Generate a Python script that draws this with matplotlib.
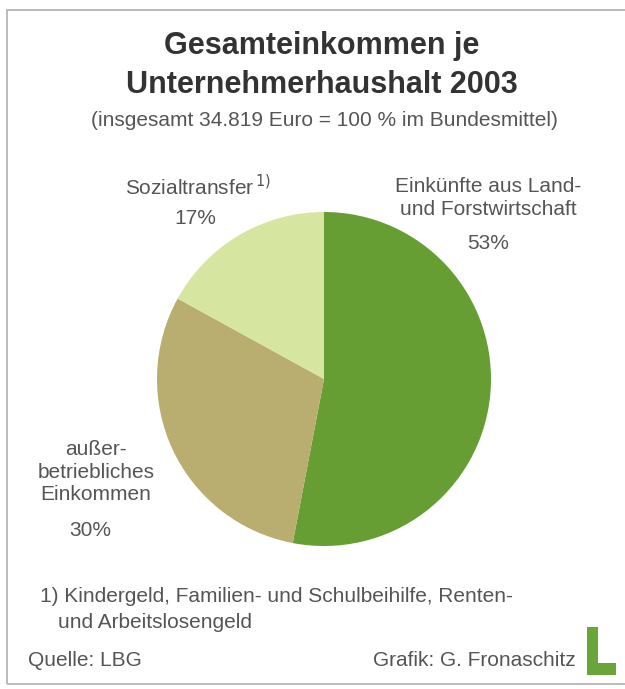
import matplotlib.pyplot as plt
from matplotlib.patches import Rectangle

plt.rcParams['font.family'] = ['Liberation Sans', 'DejaVu Sans']

# Anteile am Gesamteinkommen 2003
labels = ['Einkünfte aus Land-\nund Forstwirtschaft', 'außer-\nbetriebliches\nEinkommen', 'Sozialtransfer']
shares = [53, 30, 17]
colors = ['#669e33', '#b9ae70', '#d6e6a0']

grau = '#555555'
fs = 15

fig = plt.figure(figsize=(6.25, 6.89), dpi=100)
fig.patch.set_facecolor('white')

# Rahmen
fig.add_artist(Rectangle((7 / 625, 1 - 684 / 689), 640 / 625, 674 / 689, transform=fig.transFigure,
                         fill=False, edgecolor='#b0b0b0', linewidth=1.2))

# Kreis
cx, cy, r = 324, 379, 167
ax = fig.add_axes([(cx - r) / 625, 1 - (cy + r) / 689, 2 * r / 625, 2 * r / 689])
ax.pie(shares, colors=colors, startangle=90, counterclock=False,
       wedgeprops=dict(linewidth=0))
ax.set_xlim(-1, 1)
ax.set_ylim(-1, 1)
ax.axis('off')

# Titel
fig.text(322 / 625, 1 - 46 / 689, 'Gesamteinkommen je', ha='center', va='center',
         fontsize=22, fontweight='bold', color='#333333')
fig.text(322 / 625, 1 - 85 / 689, 'Unternehmerhaushalt 2003', ha='center', va='center',
         fontsize=22, fontweight='bold', color='#333333')
fig.text(324 / 625, 1 - 121 / 689, '(insgesamt 34.819 Euro = 100 % im Bundesmittel)',
         ha='center', va='center', fontsize=fs, color=grau)

# Beschriftungen
fig.text(198 / 625, 1 - 187 / 689, labels[2] + r'$^{\,1)}$', ha='center', va='center',
         fontsize=fs, color=grau)
fig.text(195 / 625, 1 - 219 / 689, f'{shares[2]}%', ha='center', va='center', fontsize=fs, color=grau)

fig.text(488 / 625, 1 - 198 / 689, labels[0], ha='center', va='center', fontsize=fs,
         color=grau, linespacing=1.25)
fig.text(488 / 625, 1 - 243 / 689, f'{shares[0]}%', ha='center', va='center', fontsize=fs, color=grau)

fig.text(96 / 625, 1 - 472 / 689, labels[1], ha='center', va='center', fontsize=fs,
         color=grau, linespacing=1.25)
fig.text(90 / 625, 1 - 531 / 689, f'{shares[1]}%', ha='center', va='center', fontsize=fs, color=grau)

# Fußnote und Quelle
fig.text(40 / 625, 1 - 597 / 689, '1) Kindergeld, Familien- und Schulbeihilfe, Renten-',
         ha='left', va='center', fontsize=fs, color=grau)
fig.text(58 / 625, 1 - 622 / 689, 'und Arbeitslosengeld', ha='left', va='center', fontsize=fs, color=grau)
fig.text(28 / 625, 1 - 661 / 689, 'Quelle: LBG', ha='left', va='center', fontsize=fs, color=grau)
fig.text(576 / 625, 1 - 661 / 689, 'Grafik: G. Fronaschitz', ha='right', va='center',
         fontsize=fs, color=grau)

# Logo "L"
fig.add_artist(Rectangle((587 / 625, 1 - 675 / 689), 11 / 625, 48 / 689,
                         transform=fig.transFigure, color='#6aa53a', linewidth=0))
fig.add_artist(Rectangle((587 / 625, 1 - 675 / 689), 29 / 625, 12 / 689,
                         transform=fig.transFigure, color='#6aa53a', linewidth=0))

fig.savefig('out.png', dpi=100)
